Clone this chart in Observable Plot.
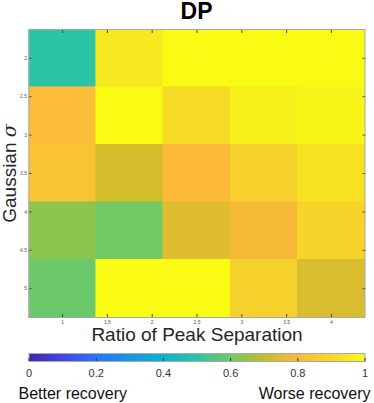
<!DOCTYPE html>
<html><head><meta charset="utf-8">
<script src="https://cdn.jsdelivr.net/npm/d3@7"></script>
<script src="https://cdn.jsdelivr.net/npm/@observablehq/plot@0.6"></script>
<style>
body{margin:0;background:#fff;}
#wrap{position:relative;width:374px;height:403px;overflow:hidden;font-family:"Liberation Sans",Arial,Helvetica,sans-serif;}
#title{position:absolute;left:28.5px;width:336px;top:0;text-align:center;font-weight:bold;font-size:23px;line-height:22px;color:#000;z-index:2;}
#main{position:absolute;left:0;top:0;}
#cbar{position:absolute;left:0;top:345px;}
</style></head><body>
<div id="wrap"><div id="title"></div><div id="main"></div><div id="cbar"></div></div>
<script>
const titleText = "DP";
const xLabel = "Ratio of Peak Separation";
const yLabelMain = "Gaussian ";
const yLabelSym = "σ";
const lowLabel = "Better recovery";
const highLabel = "Worse recovery";

const ratios = [1, 1.75, 2.5, 3.25, 4];
const sigmas = [2, 2.75, 3.5, 4.25, 5];
// rows follow sigmas (top to bottom), columns follow ratios
const values = [
  [0.50, 0.95, 1.00, 1.00, 1.00],
  [0.81, 1.00, 0.91, 0.97, 0.985],
  [0.83, 0.73, 0.80, 0.88, 0.93],
  [0.635, 0.60, 0.75, 0.79, 0.89],
  [0.59, 1.00, 1.00, 0.88, 0.74]
];
const xTicks = [1, 1.5, 2, 2.5, 3, 3.5, 4];
const yTicks = [2, 2.5, 3, 3.5, 4, 4.5, 5];
const cbTicks = [0, 0.2, 0.4, 0.6, 0.8, 1];
const parula = ["#3e26a8", "#4746e6", "#2873fa", "#1996e6", "#08b4cd", "#2dc3a5",
                "#72c864", "#c3be28", "#fcb93a", "#f5d728", "#f9fb15"];

const FONT = '"Liberation Sans", Arial, Helvetica, sans-serif';
const halfR = (ratios[1] - ratios[0]) / 2;
const halfS = (sigmas[1] - sigmas[0]) / 2;
const cells = sigmas.flatMap((s, i) => ratios.map((r, j) => ({ratio: r, sigma: s, value: values[i][j]})));
const colorScale = {type: "linear", domain: parula.map((_, i) => i / (parula.length - 1)), range: parula, interpolate: "rgb"};

document.getElementById("title").textContent = titleText;

const main = Plot.plot({
  width: 374, height: 348,
  marginLeft: 28.5, marginRight: 9.5, marginTop: 29, marginBottom: 31,
  style: {fontFamily: FONT, background: "transparent", overflow: "visible"},
  x: {domain: [ratios[0] - halfR, ratios[ratios.length - 1] + halfR]},
  y: {domain: [sigmas[0] - halfS, sigmas[sigmas.length - 1] + halfS], reverse: true},
  color: colorScale,
  marks: [
    Plot.rect(cells, {x1: d => d.ratio - halfR, x2: d => d.ratio + halfR, y1: d => d.sigma - halfS, y2: d => d.sigma + halfS, fill: "value", stroke: "value", strokeWidth: 0.6, shapeRendering: "crispEdges"}),
    Plot.axisX(xTicks, {anchor: "bottom", tickSize: -3, tickPadding: 5.5, fontSize: 5, stroke: "#444", fill: "#555", label: null, tickFormat: d => String(d)}),
    Plot.axisX(xTicks, {anchor: "top", tickSize: -3, stroke: "#444", fill: "none", label: null, tickFormat: d => String(d)}),
    Plot.axisY(yTicks, {anchor: "left", tickSize: -3, tickPadding: 5, fontSize: 5, stroke: "#444", fill: "#555", label: null, tickFormat: d => String(d)}),
    Plot.axisY(yTicks, {anchor: "right", tickSize: -3, stroke: "#444", fill: "none", label: null, tickFormat: d => String(d)}),
    Plot.frame({stroke: "#a8a8a8"}),
    Plot.text([xLabel], {frameAnchor: "bottom", textAnchor: "middle", dy: 23, fontSize: 19, fill: "#262626"}),
    Plot.text([yLabelMain + yLabelSym], {frameAnchor: "left", textAnchor: "middle", rotate: -90, dx: -19, fontSize: 19, fill: "#262626"})
  ]
});
d3.select(main).selectAll("text").filter(function() { return this.textContent === yLabelMain + yLabelSym; })
  .each(function() {
    const t = d3.select(this);
    t.text(yLabelMain);
    t.append("tspan").attr("font-style", "italic").attr("font-family", '"DejaVu Serif", serif').text(yLabelSym);
  });
document.getElementById("main").appendChild(main);

const cbMarks = [];
if (typeof Plot.raster === "function") {
  cbMarks.push(Plot.raster({x1: 0, x2: 1, y1: 0, y2: 1, fill: (x, y) => x, pixelSize: 1}));
}
const cbar = Plot.plot({
  width: 374, height: 58,
  marginLeft: 28.5, marginRight: 9.5, marginTop: 8, marginBottom: 42,
  style: {fontFamily: FONT, background: "transparent", overflow: "visible"},
  x: {domain: [0, 1]},
  y: {domain: [0, 1], axis: null},
  color: colorScale,
  marks: [
    ...cbMarks,
    Plot.frame({stroke: "#a8a8a8"}),
    Plot.axisX(cbTicks, {anchor: "bottom", tickSize: -3, tickPadding: 11, fontSize: 11, stroke: "#333", fill: "#333", label: null, tickFormat: d => String(d)}),
    Plot.text([lowLabel], {frameAnchor: "bottom-left", textAnchor: "start", dx: -10.5, dy: 37, fontSize: 16, fill: "#111"}),
    Plot.text([highLabel], {frameAnchor: "bottom-right", textAnchor: "end", dx: 5.5, dy: 37, fontSize: 16, fill: "#111"})
  ]
});
document.getElementById("cbar").appendChild(cbar);
</script>
</body></html>
